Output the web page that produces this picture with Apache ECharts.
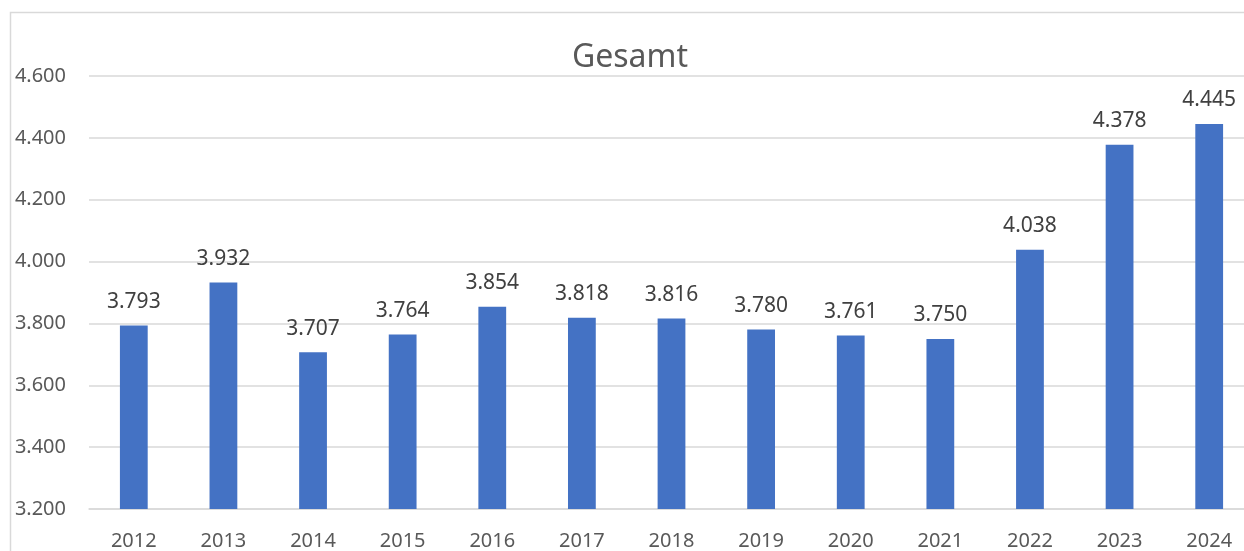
<!DOCTYPE html>
<html>
<head>
<meta charset="utf-8">
<script src="https://cdn.jsdelivr.net/npm/echarts@6/dist/echarts.min.js"></script>
<style>
html,body{margin:0;padding:0;background:#fff;}
#c{width:1244px;height:551px;}
</style>
</head>
<body>
<div id="c"></div>
<script>
const titleText = 'Gesamt';
const years = ['2012','2013','2014','2015','2016','2017','2018','2019','2020','2021','2022','2023','2024'];
const values = [3793, 3932, 3707, 3764, 3854, 3818, 3816, 3780, 3761, 3750, 4038, 4378, 4445];
const yMin = 3200, yMax = 4600, yStep = 200;

function de(n){
  const s = String(Math.round(n));
  return s.replace(/\B(?=(\d{3})+(?!\d))/g, '.');
}

const chart = echarts.init(document.getElementById('c'), null, {renderer:'canvas'});
const font = '"Noto Sans", "Open Sans", sans-serif';
chart.setOption({
  animation:false,
  backgroundColor:'#fff',
  textStyle:{fontFamily:font},
  graphic:[{
    type:'rect', left:8, top:10, silent:true,
    shape:{x:0,y:0,width:1300,height:600},
    style:{fill:null, stroke:'#D9D9D9', lineWidth:1.5}
  }],
  title:{
    text:titleText, left:625, textAlign:'center', top:37,
    textStyle:{fontFamily:font, fontSize:32, fontWeight:'normal', color:'#595959'}
  },
  grid:{left:89, width:1165, top:76, bottom:42, containLabel:false, outerBoundsMode:'none'},
  xAxis:{
    type:'category', data:years,
    axisLine:{show:true, lineStyle:{color:'#D9D9D9', width:1.5}},
    axisTick:{show:false},
    axisLabel:{color:'#595959', fontSize:20, margin:22, fontFamily:font}
  },
  yAxis:{
    type:'value', min:yMin, max:yMax, interval:yStep,
    axisLine:{show:false}, axisTick:{show:false},
    splitLine:{lineStyle:{color:'#D9D9D9', width:1.5}},
    axisLabel:{color:'#595959', fontSize:20, margin:23, fontFamily:font, formatter:v=>de(v)}
  },
  series:[{
    type:'bar', data:values, barWidth:'31%',
    itemStyle:{color:'#4472C4'},
    label:{show:true, position:'top', distance:13, color:'#404040', fontSize:21, fontFamily:font, formatter:p=>de(p.value)}
  }]
});
</script>
</body>
</html>
